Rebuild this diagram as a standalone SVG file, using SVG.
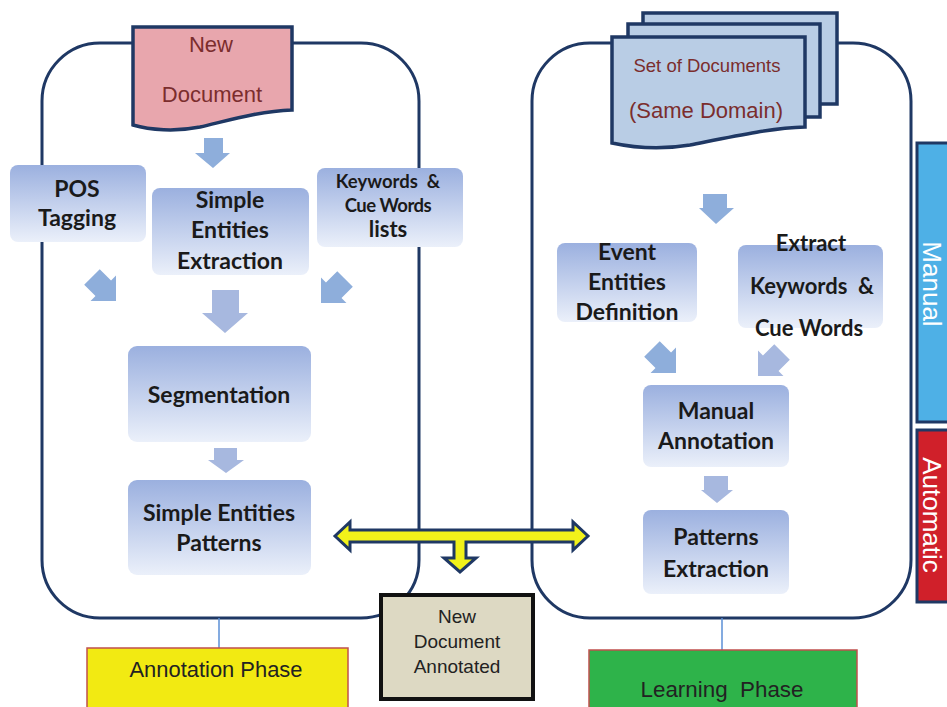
<svg xmlns="http://www.w3.org/2000/svg" width="947" height="707" viewBox="0 0 947 707">
<defs>
<linearGradient id="boxg" x1="0" y1="0" x2="0" y2="1">
<stop offset="0" stop-color="#9bb0df"/>
<stop offset="1" stop-color="#ebf0fa"/>
</linearGradient>
<style>
.cont{fill:none;stroke:#1f3864;stroke-width:3}
.box{fill:url(#boxg);stroke:none}
.doc{stroke:#1f3864;stroke-width:3.5;stroke-linejoin:miter}
.bt{font-family:Lato,"Open Sans",sans-serif;font-weight:bold;fill:#1a1a1a;text-anchor:middle}
.dt{font-family:"Liberation Sans",Arial,sans-serif;fill:#7b2d2d;text-anchor:middle}
.lt{font-family:"Liberation Sans",Arial,sans-serif;fill:#222;text-anchor:middle}
.ba{fill:#8eaedb}
.ba2{fill:#a7b8df}
.line{stroke:#5b8fd6;stroke-width:1.5}
.bar{stroke:#1f3864;stroke-width:3}
.vt{font-family:"Liberation Sans",Arial,sans-serif;fill:#ffffff;text-anchor:middle;font-size:26px}
</style>
<path id="darr" d="M-11,-34 L11,-34 L11,-18 L18,-18 L0,0 L-18,-18 L-11,-18 Z"/>
</defs>
<rect width="947" height="707" fill="#ffffff"/>

<g id="left-container"><rect class="cont" x="42" y="43" width="377" height="575" rx="58" ry="58"/></g>
<g id="right-container"><rect class="cont" x="532" y="43" width="379" height="575" rx="58" ry="58"/></g>

<g id="connectors">
<line class="line" x1="219" y1="618" x2="219" y2="648"/>
<line class="line" x1="722" y1="618" x2="722" y2="650"/>
<polygon class="ba" points="204,138 223,138 223,153 230,153 213,168 195,153 204,153"/>
<polygon class="ba2" points="212,290 239,290 239,313 248,313 225,333 202,313 212,313"/>
<polygon class="ba2" points="214,448 237,448 237,460 244,460 226,473 208,460 214,460"/>
<polygon class="ba" points="703,194 727,194 727,208 734,208 716,224 699,208 703,208"/>
<polygon class="ba2" points="704,476 728,476 728,490 733,490 717,503 701,490 704,490"/>
<use href="#darr" class="ba" transform="translate(116,301) rotate(-45)"/>
<use href="#darr" class="ba" transform="translate(321,303) rotate(45)"/>
<use href="#darr" class="ba" transform="translate(676,373) rotate(-45)"/>
<use href="#darr" class="ba2" transform="translate(758,376) rotate(45)"/>
<path d="M335,536 L350,522 L350,530 L573,530 L573,522 L588,536 L573,550 L573,542 L466,542 L466,558 L476,558 L460,572 L444,558 L454,558 L454,542 L350,542 L350,550 Z" fill="#f2f21a" stroke="#1f3864" stroke-width="3" stroke-linejoin="miter"/>
</g>

<g id="new-document">
<path class="doc" fill="#e8a6ad" d="M133,27 L292,27 L292,110 C260,111 230,120 200,127 C175,132 150,130 133,125 Z"/>
<text class="dt" x="211" y="52" font-size="22">New</text>
<text class="dt" x="212" y="102" font-size="22">Document</text>
</g>

<g id="set-of-documents">
<path class="doc" fill="#b9cde5" d="M643,13 L837,13 L837,104 L643,104 Z"/>
<path class="doc" fill="#b9cde5" d="M628,24 L820,24 L820,117 L628,117 Z"/>
<path class="doc" fill="#b9cde5" d="M612,37 L805,37 L805,127 C770,128 730,137 690,145 C660,150 635,148 612,143 Z"/>
<text class="dt" x="707" y="72" font-size="18.5">Set of Documents</text>
<text class="dt" x="706" y="118" font-size="22">(Same Domain)</text>
</g>

<g id="pos-tagging">
<rect class="box" x="10" y="165" width="136" height="77" rx="8"/>
<text class="bt" x="77" y="197" font-size="23">POS</text>
<text class="bt" x="77" y="226" font-size="23">Tagging</text>
</g>

<g id="simple-entities-extraction">
<rect class="box" x="152" y="188" width="157" height="87" rx="8"/>
<text class="bt" x="230" y="208" font-size="23">Simple</text>
<text class="bt" x="230" y="238" font-size="23">Entities</text>
<text class="bt" x="230" y="269" font-size="23">Extraction</text>
</g>

<g id="keywords-lists">
<rect class="box" x="317" y="168" width="146" height="79" rx="8"/>
<text class="bt" x="388" y="188" font-size="18.5" xml:space="preserve">Keywords  &amp;</text>
<text class="bt" x="388" y="212" font-size="18.5" font-weight="600" letter-spacing="-0.5">Cue Words</text>
<text class="bt" x="388" y="237" font-size="22">lists</text>
</g>

<g id="segmentation">
<rect class="box" x="128" y="346" width="183" height="96" rx="9"/>
<text class="bt" x="219" y="403" font-size="23">Segmentation</text>
</g>

<g id="simple-entities-patterns">
<rect class="box" x="128" y="480" width="183" height="95" rx="9"/>
<text class="bt" x="219" y="521" font-size="23">Simple Entities</text>
<text class="bt" x="219" y="551" font-size="23">Patterns</text>
</g>

<g id="event-entities-definition">
<rect class="box" x="557" y="243" width="140" height="79" rx="8"/>
<text class="bt" x="627" y="260" font-size="23">Event</text>
<text class="bt" x="627" y="290" font-size="23">Entities</text>
<text class="bt" x="627" y="320" font-size="23">Definition</text>
</g>

<g id="extract-keywords">
<rect class="box" x="738" y="245" width="145" height="83" rx="8"/>
<text class="bt" x="811" y="251" font-size="22">Extract</text>
<text class="bt" x="812" y="294" font-size="22" xml:space="preserve">Keywords  &amp;</text>
<text class="bt" x="809" y="336" font-size="22">Cue Words</text>
</g>

<g id="manual-annotation">
<rect class="box" x="643" y="385" width="146" height="82" rx="8"/>
<text class="bt" x="716" y="419" font-size="23">Manual</text>
<text class="bt" x="716" y="449" font-size="23">Annotation</text>
</g>

<g id="patterns-extraction">
<rect class="box" x="643" y="510" width="146" height="84" rx="8"/>
<text class="bt" x="716" y="545" font-size="23">Patterns</text>
<text class="bt" x="716" y="577" font-size="23">Extraction</text>
</g>

<g id="new-document-annotated">
<rect x="381" y="595" width="152" height="104" fill="#ddd9c3" stroke="#111" stroke-width="4"/>
<text class="lt" x="457" y="623" font-size="19">New</text>
<text class="lt" x="457" y="648" font-size="19">Document</text>
<text class="lt" x="457" y="673" font-size="19">Annotated</text>
</g>

<g id="annotation-phase">
<rect x="87" y="648" width="261" height="70" fill="#f2ea12" stroke="#c0504d" stroke-width="1.5"/>
<text class="lt" x="216" y="677" font-size="22" textLength="173" lengthAdjust="spacingAndGlyphs">Annotation Phase</text>
</g>

<g id="learning-phase">
<rect x="589" y="650" width="268" height="70" fill="#2eb34a" stroke="#c0504d" stroke-width="1.5"/>
<text class="lt" x="722" y="697" font-size="22" xml:space="preserve" textLength="163" lengthAdjust="spacingAndGlyphs">Learning  Phase</text>
</g>

<g id="manual-bar">
<rect class="bar" x="917" y="143" width="40" height="279" fill="#4eb0e6"/>
<text class="vt" transform="translate(923,284) rotate(90)">Manual</text>
</g>

<g id="automatic-bar">
<rect class="bar" x="917" y="430" width="40" height="172" fill="#d0202a"/>
<text class="vt" transform="translate(923,515) rotate(90)">Automatic</text>
</g>
</svg>
